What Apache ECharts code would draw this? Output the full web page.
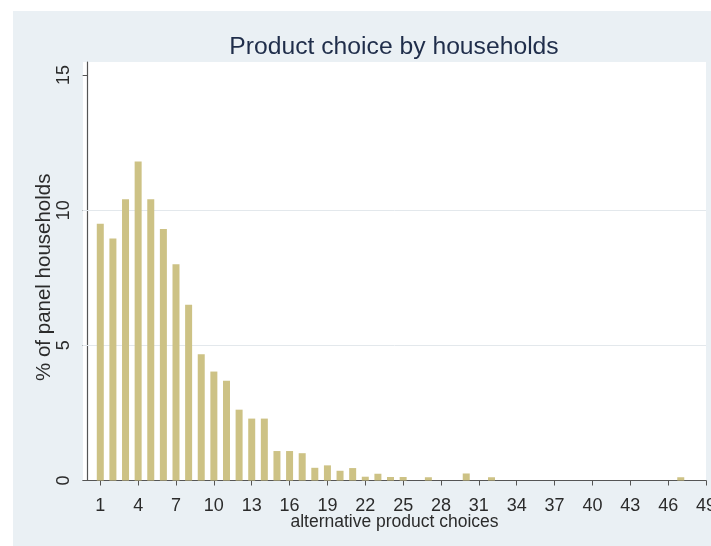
<!DOCTYPE html>
<html>
<head>
<meta charset="utf-8">
<script src="https://cdn.jsdelivr.net/npm/echarts@6/dist/echarts.min.js"></script>
<style>
  html, body { margin: 0; padding: 0; background: #fff; }
  #wrap { position: relative; width: 711px; height: 546px; background: #fff; }
  #main { position: absolute; left: 13px; top: 11px; width: 698px; height: 535px; }
</style>
</head>
<body>
<div id="wrap"><div id="main"></div></div>
<script>
// number of alternative product choices (only the ones with a visible bar)
var choices = [1, 2, 3, 4, 5, 6, 7, 8, 9, 10, 11, 12, 13, 14, 15, 16, 17, 18, 19, 20, 21, 22, 23, 24, 25, 27, 30, 32, 47];
// % of panel households
var shares = [9.5, 8.95, 10.4, 11.8, 10.4, 9.3, 8.0, 6.5, 4.67, 4.03, 3.69, 2.62, 2.29, 2.29, 1.09, 1.09, 1.01, 0.47, 0.56, 0.36, 0.46, 0.14, 0.25, 0.13, 0.13, 0.12, 0.26, 0.12, 0.12];
var xTicks = [1, 4, 7, 10, 13, 16, 19, 22, 25, 28, 31, 34, 37, 40, 43, 46, 49];
var yTicks = [0, 5, 10, 15];
var gridLines = [5, 10];

var font = "'Liberation Sans', Arial, sans-serif";
var chart = echarts.init(document.getElementById('main'));

var option = {
  backgroundColor: '#eaf0f4',
  animation: false,
  textStyle: { fontFamily: font },
  title: {
    text: 'Product choice by households',
    left: 376,
    textAlign: 'center',
    top: 19,
    textStyle: { fontSize: 24.7, fontWeight: 'normal', color: '#1f2d4a', fontFamily: font }
  },
  grid: {
    left: 70, right: 5, top: 51, bottom: 65.5,
    outerBoundsMode: 'none',
    containLabel: false,
    show: true, backgroundColor: '#ffffff', borderWidth: 0
  },
  xAxis: {
    type: 'value',
    min: -0.37,
    max: 49,
    name: 'alternative product choices',
    nameLocation: 'middle',
    nameGap: 33,
    nameMoveOverlap: false,
    nameTextStyle: { fontSize: 17.5, color: '#2b2b2b', fontFamily: font },
    axisLine: { lineStyle: { color: '#555', width: 1.2 } },
    axisTick: { show: true, length: 5, customValues: xTicks, lineStyle: { color: '#555' } },
    axisLabel: { customValues: xTicks, fontSize: 18, color: '#2b2b2b', margin: 17, fontFamily: font },
    splitLine: { show: false }
  },
  yAxis: {
    type: 'value',
    min: 0,
    max: 15.48,
    name: '% of panel households',
    nameLocation: 'middle',
    nameGap: 28,
    nameMoveOverlap: false,
    nameTextStyle: { fontSize: 20.5, color: '#2b2b2b', fontFamily: font, padding: [0, 12, 0, 0] },
    axisLine: { show: true, lineStyle: { color: '#555', width: 1.2 } },
    axisTick: { show: true, length: 5, customValues: yTicks, lineStyle: { color: '#555' } },
    axisLabel: { customValues: yTicks, rotate: 90, fontSize: 18, color: '#2b2b2b', margin: 10, fontFamily: font },
    splitLine: { show: false }
  },
  series: [{
    type: 'bar',
    data: choices.map(function (c, i) { return [c, shares[i]]; }),
    barWidth: 7,
    itemStyle: { color: '#cdc285' },
    z: 3,
    markLine: {
      silent: true,
      z: 1,
      symbol: 'none',
      label: { show: false },
      lineStyle: { color: '#e3e8ec', width: 1, type: 'solid' },
      data: gridLines.map(function (v) { return { yAxis: v }; })
    }
  }]
};
chart.setOption(option);
</script>
</body>
</html>
